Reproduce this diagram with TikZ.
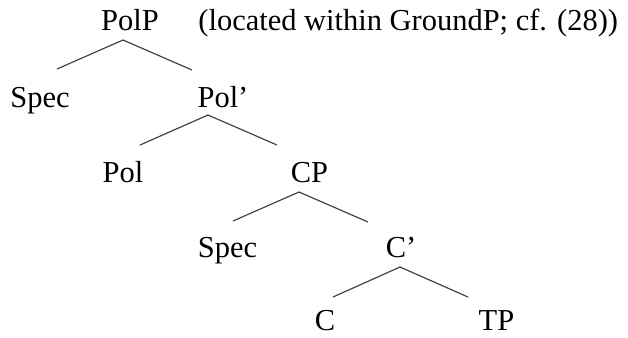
\documentclass[tikz,border=0pt]{standalone}
\usepackage{fontspec}
\setmainfont{Liberation Serif}
\begin{document}
\begin{tikzpicture}[x=0.43pt, y=-0.43pt,
  cat/.style={inner sep=0pt, anchor=base, font=\fontsize{13.1}{15}\selectfont},
  branch/.style={draw=black!75, line width=0.5pt}]
\useasboundingbox (0,0) rectangle (628,337);

% Top: PolP
\node (polp) [cat] at (130,30) {PolP};
\node (note) [cat, anchor=base west] at (198,30) {(located within GroundP; cf. (28))};
\node (spec1) [cat] at (40,107) {Spec};
\node (polbar) [cat] at (223,107) {Pol’};

% Branches of PolP
\path[branch] ([shift={(-7,10)}]polp.base) -- ([shift={(17,-38)}]spec1.base);
\path[branch] ([shift={(-7,10)}]polp.base) -- ([shift={(-31,-37)}]polbar.base);

% Pol' level
\node (pol) [cat] at (123,182) {Pol};
\node (cp) [cat] at (309.5,182) {CP};

% Branches of Pol'
\path[branch] ([shift={(-15,8)}]polbar.base) -- ([shift={(17,-37)}]pol.base);
\path[branch] ([shift={(-15,8)}]polbar.base) -- ([shift={(-32.5,-37)}]cp.base);

% CP level
\node (spec2) [cat] at (227.5,257) {Spec};
\node (cbar) [cat] at (401,257) {C’};

% Branches of CP
\path[branch] ([shift={(-10.5,10)}]cp.base) -- ([shift={(5.5,-36)}]spec2.base);
\path[branch] ([shift={(-10.5,10)}]cp.base) -- ([shift={(-33,-35)}]cbar.base);

% C' level
\node (c) [cat] at (325,330) {C};
\node (tp) [cat] at (496.5,330) {TP};

% Branches of C'
\path[branch] ([shift={(-1,10)}]cbar.base) -- ([shift={(8,-33)}]c.base);
\path[branch] ([shift={(-1,10)}]cbar.base) -- ([shift={(-28.5,-33)}]tp.base);

\end{tikzpicture}
\end{document}
